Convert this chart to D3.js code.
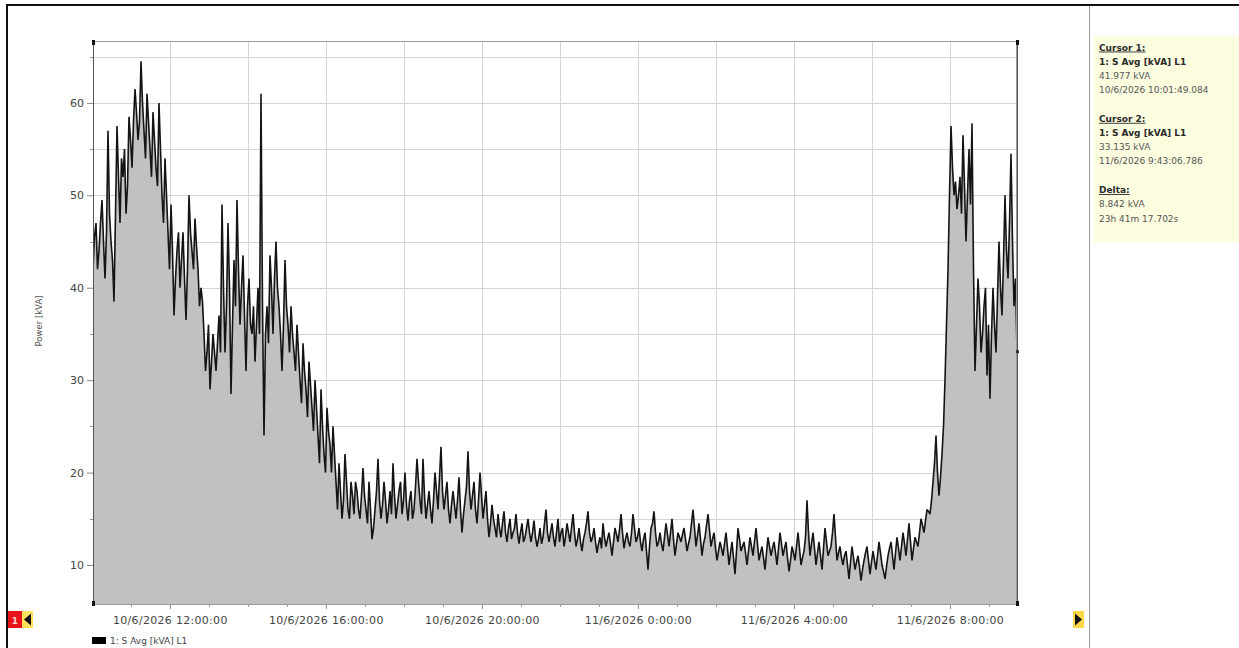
<!DOCTYPE html>
<html>
<head>
<meta charset="utf-8">
<script src="https://cdn.jsdelivr.net/npm/d3@7"></script>
<style>
  html, body { margin: 0; padding: 0; background: #fff; }
  svg { display: block; font-family: "DejaVu Sans", sans-serif; }
</style>
</head>
<body>
<svg id="chart" width="1239" height="648"></svg>
<script>
// Recording window (cursor 1 to cursor 2)
const startTime = new Date(2026, 5, 10, 10, 1, 49, 84);
const endTime = new Date(2026, 5, 11, 9, 43, 6, 786);

// S Avg [kVA] L1, main samples (even slots of the log)
const kvaValues = [
  42, 47, 44, 49.5, 41, 57, 45, 38.5, 57.5, 47,
  52, 48, 58.5, 53, 61.5, 56, 64.5, 57, 61, 55,
  59, 53, 60, 50, 54, 46, 49, 37, 44, 40,
  46, 36.5, 50, 44, 47.5, 42, 40, 35, 33, 29,
  35, 31, 37, 49, 33, 47, 28.5, 43, 49.5, 36,
  43.5, 31, 41, 35, 32, 40, 61, 24, 38, 43.5,
  35, 45, 38, 31, 43, 36, 38, 33, 36, 30,
  34, 29, 32, 27, 30, 24, 29, 22, 27, 23,
  25, 19, 21, 15, 22, 16, 19, 15.5, 18, 15,
  20.5, 16, 19, 12.8, 16, 21.5, 15, 19, 14.5, 18,
  21, 15, 18, 15.5, 20, 14.8, 18, 16, 21.5, 17,
  21.5, 15, 18, 14.5, 20, 16, 22.8, 16, 19, 14.5,
  18, 15, 19.5, 13.5, 17, 22.3, 16, 19, 14.5, 20,
  15, 18, 13, 16.5, 14, 15.5, 13, 15.8, 12.5, 15,
  13.5, 15.5, 12.3, 14.5, 13, 15, 12.5, 14.8, 12, 14,
  13, 16, 12.5, 14.5, 12, 15, 13.5, 12, 14.5, 12.5,
  15.5, 12, 14, 11.5, 13.5, 15.8, 12.5, 14, 11.3, 13,
  14.5, 12, 13.5, 11, 14, 12.5, 15.5, 11.8, 13.5, 12,
  15.5, 12.5, 14, 11.5, 13.5, 9.5, 14, 15.8, 12, 13.5,
  11.5, 14.5, 12, 15, 11, 13.5, 12.5, 14, 11.5, 13,
  16, 12, 14.5, 11, 13, 15.5, 12, 13.5, 10.5, 12.5,
  11, 13.5, 10, 12.5, 9, 14, 11.5, 12.5, 10, 13,
  11, 14, 10.5, 12, 9.5, 13, 11, 12.5, 10, 13.5,
  11, 12.5, 9.3, 12, 10.5, 13.5, 10, 11.5, 17, 11,
  13.5, 10, 12.5, 9.5, 14, 11, 12, 15.5, 10.5, 12,
  10, 11.5, 8.5, 12, 9.5, 11, 8.3, 10.5, 12, 9,
  11.5, 9.5, 12.5, 10, 8.5, 11, 12.5, 9.5, 13, 10.5,
  13.5, 11, 14.5, 10.5, 13, 12, 15, 13.5, 16, 15.5,
  19, 24, 17.5, 22, 30, 42, 57.5, 50, 48.5, 52,
  56.5, 45, 55, 57.8, 31, 41, 33, 38, 30.5, 28,
  40, 33, 45, 37, 50, 41, 54.5, 38, 33.135
];

// S Avg [kVA] L1, in-between samples (odd slots of the log)
const kvaMidValues = [
  45.5, 42, 47, 45, 46, 48, 43, 48, 52, 54,
  55, 51, 56, 58, 59, 58, 60, 54, 58, 52,
  56, 51, 55, 47, 50, 42, 44, 41, 46, 43,
  41, 42, 46, 42, 44.5, 38, 38.5, 31, 36, 32,
  33, 34, 33, 40, 38, 40, 36, 38, 42, 40,
  37, 38, 36, 38, 36, 35, 38, 35, 34, 40,
  41, 40, 35, 36, 38, 33, 35, 31, 33, 27.5,
  31, 26, 29.5, 24.5, 27, 21, 25, 20, 24.5, 20,
  22, 16, 18, 17, 19, 15, 17.5, 19, 16, 17.5,
  17.5, 14.5, 16, 14, 18, 17, 16.5, 17, 16, 15.5,
  17.5, 16.5, 19, 17, 16.5, 17, 15, 18.5, 19, 15.5,
  17.5, 16.5, 16, 17, 18, 19.5, 18, 17.5, 16, 16.5,
  16.5, 17, 16, 15.5, 18.5, 18, 17.5, 16, 17, 17.5,
  16.5, 15, 14.5, 15, 13, 14, 14.5, 13.5, 14, 12.8,
  14, 13.5, 13.5, 12.5, 14, 13.5, 13.5, 13, 12.8, 12.3,
  14.5, 13.5, 13.5, 13, 13.5, 12.5, 14, 13, 13.5, 14,
  13.5, 12.8, 12.5, 12.8, 14.5, 13.5, 13, 12.5, 12.3, 11.8,
  13, 12.8, 12.3, 12.5, 13.3, 13.8, 13.5, 12.8, 12.5, 13.5,
  14, 13, 12.5, 12.8, 11.5, 12, 14.5, 13.5, 12.5, 12.3,
  13, 13.3, 13.5, 12.8, 12.3, 13, 13.3, 12.8, 12.3, 14.5,
  14, 13.2, 12.8, 12.3, 14.3, 13.8, 12.8, 11.8, 11.5, 11.8,
  12.3, 11.8, 11.3, 10.8, 11.5, 12.8, 12, 11.3, 11.5, 12,
  12.5, 12.3, 11.3, 10.8, 11.3, 12, 11.8, 11.3, 11.8, 12.3,
  11.8, 10.8, 10.5, 11.3, 12, 11.8, 10.8, 13, 13.5, 12.3,
  11.8, 11.3, 11, 11.8, 12.5, 11.5, 13.5, 13, 11.3, 10.8,
  11, 10, 10.3, 10.8, 10.3, 9.8, 9.5, 11.3, 10.5, 10.3,
  10.5, 11, 11.3, 9.3, 9.8, 11.8, 11, 11.3, 11.8, 12,
  12.3, 12.8, 12.5, 11.8, 12.5, 13.5, 14.3, 14.8, 15.8, 17,
  21, 20, 19.5, 25, 36, 50, 53, 51.5, 50, 48,
  51, 50, 49, 42, 36, 38, 35, 40, 36, 35,
  36, 39, 40, 43, 44, 47, 45, 41
];

// Y axis labels and grid steps
const yLabelValues = [10, 20, 30, 40, 50, 60];
const yGridValues = [10, 15, 20, 25, 30, 35, 40, 45, 50, 55, 60, 65];

// Cursor read-out panel
const cursorLines = [
  { text: "Cursor 1:", kind: "head" },
  { text: "1: S Avg [kVA] L1", kind: "series" },
  { text: "41.977 kVA", kind: "value" },
  { text: "10/6/2026 10:01:49.084", kind: "value" },
  { text: "", kind: "gap" },
  { text: "Cursor 2:", kind: "head" },
  { text: "1: S Avg [kVA] L1", kind: "series" },
  { text: "33.135 kVA", kind: "value" },
  { text: "11/6/2026 9:43:06.786", kind: "value" },
  { text: "", kind: "gap" },
  { text: "Delta:", kind: "head" },
  { text: "8.842 kVA", kind: "value" },
  { text: "23h 41m 17.702s", kind: "value" }
];
const seriesName = "1: S Avg [kVA] L1";
const yTitle = "Power [kVA]";

const svg = d3.select("#chart");
const plot = { left: 93, right: 1017, top: 41, bottom: 605 };

// Merge main and in-between samples into one evenly spaced record
const series = [];
kvaValues.forEach((v, i) => {
  series.push(v);
  if (i < kvaMidValues.length) series.push(kvaMidValues[i]);
});
const step = (endTime - startTime) / (series.length - 1);
const data = series.map((v, i) => ({ t: new Date(+startTime + i * step), v }));

const x = d3.scaleTime().domain([startTime, endTime]).range([plot.left, plot.right]);
const y = d3.scaleLinear().domain([5.67, 66.7]).range([plot.bottom, plot.top]);

// Outer frame
svg.append("rect").attr("x", 0).attr("y", 0).attr("width", 1239).attr("height", 648).attr("fill", "#fff");
svg.append("line").attr("x1", 7).attr("x2", 1239).attr("y1", 5).attr("y2", 5)
  .attr("stroke", "#111").attr("stroke-width", 2);
svg.append("line").attr("x1", 7).attr("x2", 7).attr("y1", 4).attr("y2", 648)
  .attr("stroke", "#111").attr("stroke-width", 2);
svg.append("line").attr("x1", 1089.5).attr("x2", 1089.5).attr("y1", 6).attr("y2", 648)
  .attr("stroke", "#9a9a9a").attr("stroke-width", 1);

// Grid
const grid = svg.append("g");
grid.selectAll("line.h").data(yGridValues).join("line")
  .attr("x1", plot.left).attr("x2", plot.right)
  .attr("y1", d => Math.round(y(d)) + 0.5).attr("y2", d => Math.round(y(d)) + 0.5)
  .attr("stroke", "#d4d4d4");
grid.selectAll("line.v").data(x.ticks(d3.timeHour.every(2))).join("line")
  .attr("y1", plot.top).attr("y2", plot.bottom)
  .attr("x1", d => Math.round(x(d)) + 0.5).attr("x2", d => Math.round(x(d)) + 0.5)
  .attr("stroke", "#d4d4d4");

// Area and trace
svg.append("defs").append("clipPath").attr("id", "plotClip")
  .append("rect").attr("x", plot.left).attr("y", plot.top)
  .attr("width", plot.right - plot.left).attr("height", plot.bottom - plot.top);

const area = d3.area().x(d => x(d.t)).y0(plot.bottom).y1(d => y(d.v));
const line = d3.line().x(d => x(d.t)).y(d => y(d.v));
svg.append("path").datum(data).attr("d", area).attr("fill", "#c1c1c1")
  .attr("clip-path", "url(#plotClip)");
svg.append("path").datum(data).attr("d", line).attr("fill", "none")
  .attr("stroke", "#141414").attr("stroke-width", 1.6).attr("stroke-linejoin", "bevel")
  .attr("clip-path", "url(#plotClip)");

// Plot border
svg.append("rect").attr("x", plot.left + 0.5).attr("y", plot.top + 0.5)
  .attr("width", plot.right - plot.left - 1).attr("height", plot.bottom - plot.top - 1)
  .attr("fill", "none").attr("stroke", "#9a9a9a");
// Cursor lines on the plot edges
[plot.left, plot.right].forEach(cx => {
  svg.append("line").attr("x1", cx + 0.5).attr("x2", cx + 0.5)
    .attr("y1", plot.top).attr("y2", plot.bottom).attr("stroke", "#555");
  svg.append("rect").attr("x", cx - 1).attr("y", plot.top - 1).attr("width", 3).attr("height", 5).attr("fill", "#111");
  svg.append("rect").attr("x", cx - 1).attr("y", plot.bottom - 4).attr("width", 3).attr("height", 5).attr("fill", "#111");
});
svg.append("rect").attr("x", plot.right - 1).attr("y", y(kvaValues[kvaValues.length - 1]) - 1)
  .attr("width", 3).attr("height", 3).attr("fill", "#333");

// Y axis
const yAxis = d3.axisLeft(y).tickValues(yLabelValues).tickSize(6).tickPadding(3);
const gy = svg.append("g").attr("transform", `translate(${plot.left},0)`).call(yAxis);
gy.select(".domain").remove();
gy.selectAll(".tick line").attr("stroke", "#888");
gy.selectAll(".tick text").attr("font-size", 11).attr("fill", "#444")
  .attr("font-family", "DejaVu Sans, sans-serif");
svg.append("g").selectAll("line").data(yGridValues.filter(v => v % 10 !== 0)).join("line")
  .attr("x1", plot.left - 3).attr("x2", plot.left)
  .attr("y1", d => Math.round(y(d)) + 0.5).attr("y2", d => Math.round(y(d)) + 0.5)
  .attr("stroke", "#999");

svg.append("text").attr("transform", "translate(42,321) rotate(-90)")
  .attr("text-anchor", "middle").attr("font-size", 8.5).attr("fill", "#555")
  .text(yTitle);

// X axis
const fmt = d3.timeFormat("%-d/%-m/%Y %-H:%M:%S");
const xAxis = d3.axisBottom(x).ticks(d3.timeHour.every(4)).tickFormat(fmt).tickSize(4).tickPadding(7);
const gx = svg.append("g").attr("transform", `translate(0,${plot.bottom})`).call(xAxis);
gx.select(".domain").remove();
gx.selectAll(".tick line").attr("stroke", "#888");
gx.selectAll(".tick text").attr("font-size", 11).attr("fill", "#444")
  .attr("letter-spacing", 0.3).attr("font-family", "DejaVu Sans, sans-serif");
svg.append("g").selectAll("line").data(x.ticks(d3.timeHour.every(1))).join("line")
  .attr("x1", d => Math.round(x(d)) + 0.5).attr("x2", d => Math.round(x(d)) + 0.5)
  .attr("y1", plot.bottom).attr("y2", plot.bottom + 2).attr("stroke", "#999");

// Cursor navigation markers
svg.append("rect").attr("x", 8).attr("y", 611).attr("width", 14).attr("height", 17).attr("fill", "#e8141c");
svg.append("text").attr("x", 15).attr("y", 623.5).attr("text-anchor", "middle")
  .attr("font-size", 9).attr("font-weight", "bold").attr("fill", "#ffd9d0").text("1");
svg.append("rect").attr("x", 22).attr("y", 611).attr("width", 11).attr("height", 17).attr("fill", "#ffe25a");
svg.append("path").attr("d", "M24,619.5 L31,613.5 L31,625.5 Z").attr("fill", "#111");
svg.append("rect").attr("x", 1073).attr("y", 611).attr("width", 11).attr("height", 17).attr("fill", "#ffd84a");
svg.append("path").attr("d", "M1082,619.5 L1075,613.5 L1075,625.5 Z").attr("fill", "#111");

// Legend
svg.append("rect").attr("x", 92).attr("y", 637).attr("width", 14).attr("height", 7).attr("fill", "#000");
svg.append("text").attr("x", 110).attr("y", 644).attr("font-size", 9).attr("fill", "#444").text(seriesName);

// Cursor read-out panel
svg.append("rect").attr("x", 1094).attr("y", 36).attr("width", 145).attr("height", 206).attr("fill", "#fdfde0");
let ty = 50.5;
cursorLines.forEach(l => {
  if (l.kind === "gap") { ty += 14.5; return; }
  const t = svg.append("text").attr("x", 1099).attr("y", ty).attr("font-size", 9).text(l.text);
  if (l.kind === "head") {
    t.attr("font-weight", "bold").attr("fill", "#2a2a2a").attr("text-decoration", "underline");
  } else if (l.kind === "series") {
    t.attr("font-weight", "bold").attr("fill", "#2a2a2a");
  } else {
    t.attr("fill", "#555");
  }
  ty += 14.2;
});
</script>
</body>
</html>
